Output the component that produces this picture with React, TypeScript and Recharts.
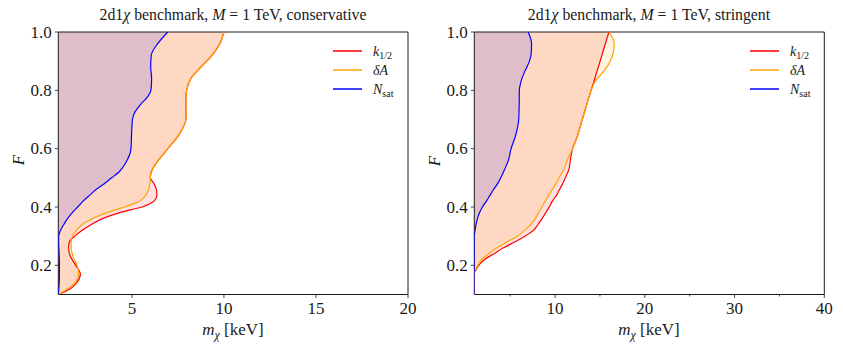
import { ComposedChart, Area, Line, XAxis, YAxis, ReferenceArea } from 'recharts';

const FONT = '"Liberation Serif", serif';
const INK = '#1a1a1a';

// conservative panel: F values and the m_chi [keV] of each boundary
const fCons = [0.1, 0.12, 0.14, 0.17, 0.2, 0.23, 0.26, 0.28, 0.3, 0.32, 0.34, 0.36, 0.38, 0.39, 0.4, 0.41, 0.42, 0.44, 0.46, 0.48, 0.5, 0.52, 0.55, 0.6, 0.65, 0.7, 0.72, 0.75, 0.78, 0.8, 0.84, 0.88, 0.92, 0.96, 1.0];
const k12Cons = [1.0, 1.65, 2.0, 2.2, 1.95, 1.66, 1.56, 1.6, 1.9, 2.3, 2.8, 3.4, 4.3, 4.9, 5.55, 5.95, 6.2, 6.36, 6.33, 6.2, 6.0, 6.05, 6.32, 6.95, 7.58, 7.93, 7.94, 7.93, 7.94, 7.97, 8.2, 8.75, 9.35, 9.78, 10.0];
const dACons = [1.0, 1.5, 1.9, 2.1, 2.02, 1.8, 1.7, 1.7, 1.76, 1.98, 2.3, 2.85, 3.6, 4.1, 4.6, 5.05, 5.4, 5.75, 5.9, 5.97, 6.0, 6.05, 6.32, 6.95, 7.58, 7.93, 7.94, 7.93, 7.94, 7.97, 8.2, 8.75, 9.35, 9.78, 10.0];
const nSatCons = [1.0, 1.03, 1.05, 1.06, 1.06, 1.05, 1.03, 1.02, 1.02, 1.12, 1.3, 1.5, 1.75, 1.9, 2.05, 2.2, 2.35, 2.7, 3.05, 3.5, 3.9, 4.3, 4.65, 4.95, 4.98, 5.03, 5.12, 5.45, 5.88, 6.03, 6.07, 6.02, 6.05, 6.4, 6.95];

// stringent panel
const fStr = [0.1, 0.15, 0.175, 0.18, 0.2, 0.22, 0.24, 0.26, 0.28, 0.3, 0.32, 0.34, 0.36, 0.38, 0.4, 0.42, 0.44, 0.46, 0.48, 0.5, 0.53, 0.56, 0.6, 0.64, 0.7, 0.75, 0.8, 0.83, 0.87, 0.9, 0.93, 0.96, 1.0];
const k12Str = [1.0, 1.0, 1.0, 1.1, 1.5, 2.15, 3.2, 4.25, 5.5, 6.65, 7.58, 8.1, 8.55, 8.95, 9.35, 9.7, 10.15, 10.5, 10.85, 11.15, 11.55, 11.7, 11.95, 12.45, 13.03, 13.52, 14.02, 14.33, 14.72, 15.02, 15.31, 15.61, 16.0];
const dAStr = [1.0, 1.0, 1.0, 1.05, 1.4, 1.85, 2.6, 3.55, 4.6, 5.8, 6.6, 7.3, 7.8, 8.15, 8.55, 8.9, 9.3, 9.7, 10.1, 10.45, 11.0, 11.35, 11.95, 12.45, 13.03, 13.52, 14.02, 14.45, 15.55, 16.15, 16.5, 16.6, 16.0];
const nSatStr = [1.0, 1.0, 1.0, 1.0, 1.0, 1.0, 1.0, 1.0, 1.0, 1.0, 1.08, 1.2, 1.35, 1.58, 1.9, 2.35, 2.75, 3.15, 3.6, 3.95, 4.4, 4.8, 5.1, 5.55, 5.95, 6.0, 6.02, 6.2, 6.7, 7.15, 7.35, 7.38, 7.0];

const yTicks = [0.2, 0.4, 0.6, 0.8, 1.0];
const xTicksCons = [5, 10, 15, 20];
const xTicksStr = [5, 10, 15, 20, 25, 30, 35, 40];
const xLabelsStr = [10, 20, 30, 40];

const buildRows = (f: number[], k: number[], d: number[], n: number[]) =>
  f.map((F, i) => ({ F, k12: k[i], dA: d[i], nSat: n[i] }));

const rowsCons = buildRows(fCons, k12Cons, dACons, nSatCons);
const rowsStr = buildRows(fStr, k12Str, dAStr, nSatStr);

const XTick = ({ x, y, payload, labels }: any) => {
  const major = labels.includes(payload.value);
  return (
    <g>
      <line x1={x} x2={x} y1={y} y2={y + (major ? 3.5 : 2)} stroke={INK} strokeWidth={0.8} />
      {major && (
        <text x={x} y={y + 19.5} textAnchor="middle" fontSize={17} fontFamily={FONT} fill={INK}>
          {payload.value}
        </text>
      )}
    </g>
  );
};

const YTick = ({ x, y, payload }: any) => (
  <g>
    <line x1={x - 3.5} x2={x} y1={y} y2={y} stroke={INK} strokeWidth={0.8} />
    <text x={x - 6.5} y={y + 5.5} textAnchor="end" fontSize={17} fontFamily={FONT} fill={INK}>
      {payload.value.toFixed(1)}
    </text>
  </g>
);

function Panel({ rows, xMax, xTicks, xLabels, width, margin, yAxisWidth }: any) {
  return (
    <ComposedChart width={width} height={351} data={rows} layout="vertical" margin={margin}>
      <XAxis
        type="number"
        domain={[1, xMax]}
        ticks={xTicks}
        interval={0}
        allowDataOverflow
        axisLine={false}
        tickLine={false}
        tickSize={0}
        tickMargin={0}
        height={40}
        tick={(p: any) => <XTick {...p} labels={xLabels} />}
      />
      <YAxis
        type="number"
        dataKey="F"
        domain={[0.1, 1]}
        ticks={yTicks}
        interval={0}
        reversed
        allowDataOverflow
        width={yAxisWidth}
        axisLine={false}
        tickLine={false}
        tickSize={0}
        tickMargin={0}
        tick={YTick}
      />
      <Area dataKey="k12" type="monotone" baseValue={1} fill="red" fillOpacity={0.12} stroke="none" isAnimationActive={false} />
      <Area dataKey="dA" type="monotone" baseValue={1} fill="orange" fillOpacity={0.12} stroke="none" isAnimationActive={false} />
      <Area dataKey="nSat" type="monotone" baseValue={1} fill="blue" fillOpacity={0.12} stroke="none" isAnimationActive={false} />
      <Line dataKey="k12" type="monotone" stroke="red" strokeWidth={1.2} dot={false} activeDot={false} isAnimationActive={false} />
      <Line dataKey="dA" type="monotone" stroke="orange" strokeWidth={1.2} dot={false} activeDot={false} isAnimationActive={false} />
      <Line dataKey="nSat" type="monotone" stroke="blue" strokeWidth={1.2} dot={false} activeDot={false} isAnimationActive={false} />
      <ReferenceArea x1={1} x2={xMax} y1={0.1} y2={1} fill="none" stroke={INK} strokeWidth={1} ifOverflow="visible" />
    </ComposedChart>
  );
}

function Legend({ x, y }: { x: number; y: number }) {
  const rows = [
    { color: 'red', label: <><tspan fontStyle="italic">k</tspan><tspan dy={3.5} fontSize={10}>1/2</tspan></> },
    { color: 'orange', label: <tspan fontStyle="italic">δA</tspan> },
    { color: 'blue', label: <><tspan fontStyle="italic">N</tspan><tspan dy={3.5} fontSize={10}>sat</tspan></> },
  ];
  return (
    <g>
      {rows.map((r, i) => (
        <g key={i}>
          <line x1={x} x2={x + 29} y1={y + i * 19} y2={y + i * 19} stroke={r.color} strokeWidth={1.5} />
          <text x={x + 40} y={y + i * 19 + 4.5} fontSize={14} fontFamily={FONT} fill={INK}>
            {r.label}
          </text>
        </g>
      ))}
    </g>
  );
}

function Title({ cx, tail }: { cx: number; tail: string }) {
  return (
    <text x={cx} y={20} textAnchor="middle" fontSize={15.8} fontFamily={FONT} fill={INK}>
      2d1<tspan fontStyle="italic">χ</tspan> benchmark,  <tspan fontStyle="italic">M</tspan> = 1 TeV,  {tail}
    </text>
  );
}

function XLabel({ cx }: { cx: number }) {
  return (
    <text x={cx} y={335} textAnchor="middle" fontSize={17} fontFamily={FONT} fill={INK}>
      <tspan fontStyle="italic">m</tspan>
      <tspan fontStyle="italic" fontSize={12} dy={4}>χ</tspan>
      <tspan dy={-4}> [keV]</tspan>
    </text>
  );
}

function YLabel({ x, cy }: { x: number; cy: number }) {
  return (
    <text x={x} y={cy} transform={`rotate(-90 ${x} ${cy})`} textAnchor="middle" fontSize={17} fontStyle="italic" fontFamily={FONT} fill={INK}>
      F
    </text>
  );
}

export default function App() {
  return (
    <div style={{ position: 'absolute', left: 0, top: 0, width: 843, height: 351, background: '#fff' }}>
      <div style={{ position: 'absolute', left: 0, top: 0 }}>
        <Panel
          rows={rowsCons}
          xMax={20}
          xTicks={xTicksCons}
          xLabels={xTicksCons}
          width={421}
          margin={{ top: 32, right: 13, bottom: 16.5, left: 8.3 }}
          yAxisWidth={50}
        />
      </div>
      <div style={{ position: 'absolute', left: 421, top: 0 }}>
        <Panel
          rows={rowsStr}
          xMax={40}
          xTicks={xTicksStr}
          xLabels={xLabelsStr}
          width={422}
          margin={{ top: 32, right: 18.7, bottom: 16.5, left: 8.3 }}
          yAxisWidth={45}
        />
      </div>
      <svg width={843} height={351} style={{ position: 'absolute', left: 0, top: 0, pointerEvents: 'none' }}>
        <Title cx={233} tail="conservative" />
        <Title cx={649} tail="stringent" />
        <XLabel cx={233} />
        <XLabel cx={649} />
        <YLabel x={24} cy={160} />
        <YLabel x={440} cy={161} />
        <Legend x={333} y={51} />
        <Legend x={750} y={51} />
      </svg>
    </div>
  );
}
